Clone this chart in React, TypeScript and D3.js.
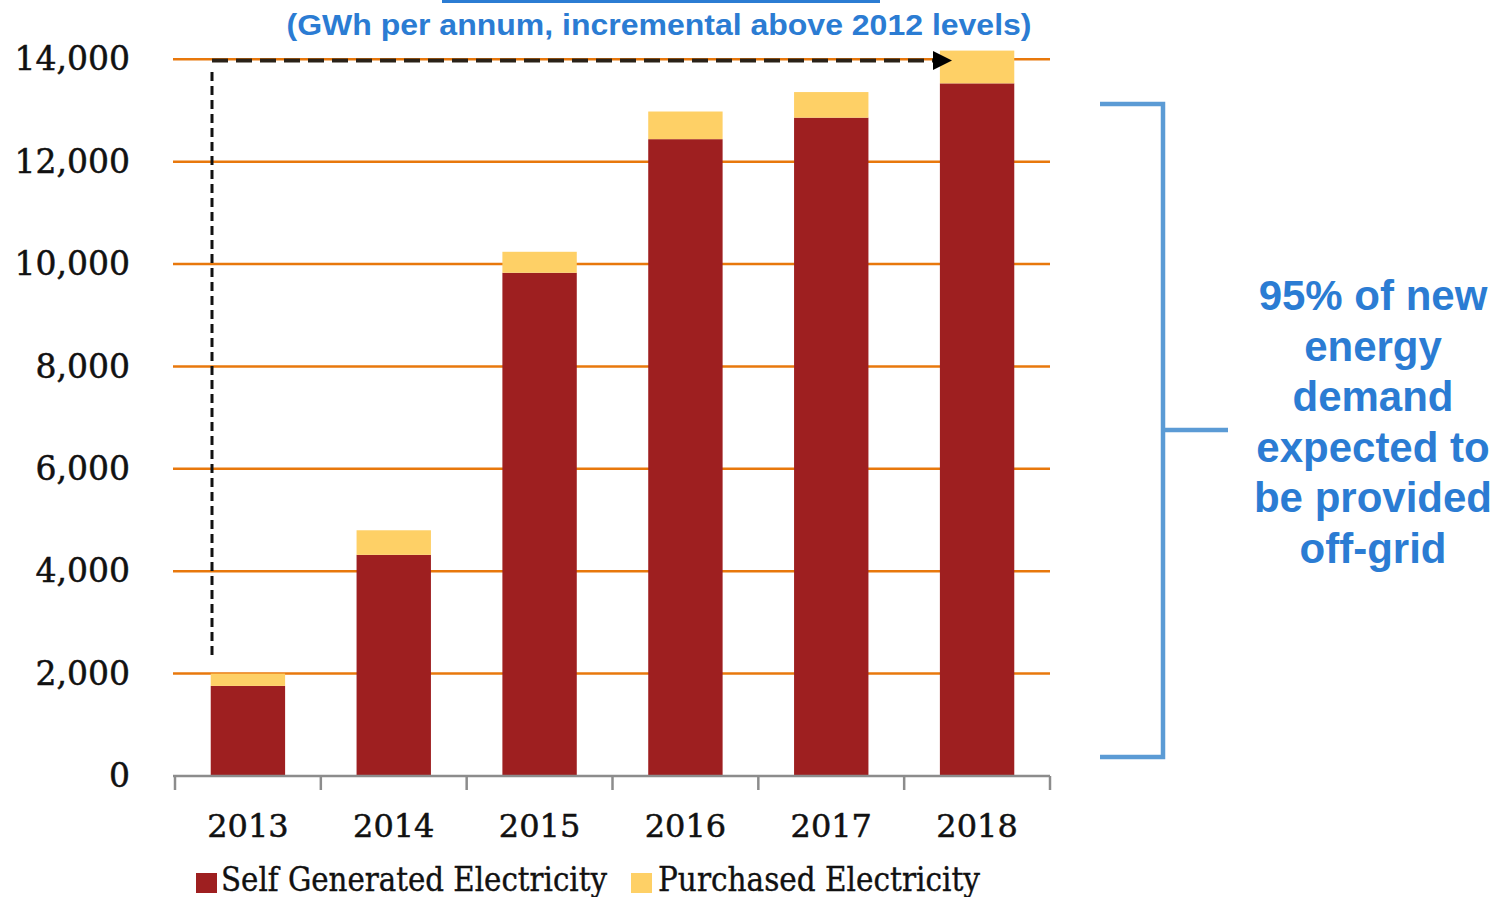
import React, { useRef, useEffect } from 'react';
import * as d3 from 'd3';

const years = ['2013', '2014', '2015', '2016', '2017', '2018'];
const selfGenerated = [1760, 4320, 9830, 12440, 12860, 13530];
const purchased = [240, 480, 410, 540, 500, 640];
const yTicks = [0, 2000, 4000, 6000, 8000, 10000, 12000, 14000];
const legendLabels = ['Self Generated Electricity', 'Purchased Electricity'];
const titleText = '(GWh per annum, incremental above 2012 levels)';
const noteLines = ['95% of new', 'energy', 'demand', 'expected to', 'be provided', 'off-grid'];

const RED = '#9e1f20';
const YELLOW = '#fed066';
const ORANGE = '#e8780c';
const BLUE_TEXT = '#2b7cd3';
const BLUE_LINE = '#5b9bd5';
const INK = '#111';

const App: React.FC = () => {
  const svgRef = useRef<SVGSVGElement>(null);
  const width = 1496;
  const height = 897;

  useEffect(() => {
    if (!svgRef.current) return;
    const svg = d3.select(svgRef.current);
    svg.selectAll('*').remove();

    const left = 175;
    const right = 1050;
    const x = d3.scaleBand<string>()
      .domain(years)
      .range([left, right])
      .paddingInner(0.49)
      .paddingOuter(0.245);
    const y = d3.scaleLinear().domain([0, 14000]).range([776, 59.3]);
    const step = x.step();

    // title (top line is cut off in the source)
    svg.append('rect')
      .attr('x', 442).attr('y', 0).attr('width', 438).attr('height', 3)
      .attr('fill', BLUE_TEXT);
    svg.append('text')
      .attr('x', 659).attr('y', 35)
      .attr('text-anchor', 'middle')
      .attr('textLength', 745)
      .attr('lengthAdjust', 'spacingAndGlyphs')
      .style('font-family', '"Liberation Sans", Arial, sans-serif')
      .style('font-weight', 700)
      .style('font-size', '29px')
      .style('fill', BLUE_TEXT)
      .text(titleText);

    // gridlines
    svg.append('g')
      .selectAll('line')
      .data(yTicks.filter(d => d > 0))
      .join('line')
      .attr('x1', 173).attr('x2', right)
      .attr('y1', d => y(d)).attr('y2', d => y(d))
      .attr('stroke', ORANGE)
      .attr('stroke-width', 2.5);

    // y labels
    const yAxis = svg.append('g')
      .attr('transform', 'translate(130,0)')
      .call(d3.axisLeft(y).tickValues(yTicks).tickSize(0).tickPadding(0).tickFormat(d => d3.format(',')(d as number)));
    yAxis.select('.domain').remove();
    yAxis.selectAll('text')
      .style('font-family', '"DejaVu Serif", Georgia, serif')
      .style('font-size', '33px')
      .style('fill', INK)
      .style('stroke', INK)
      .style('stroke-width', 0.5);

    // stacked bars
    const stacked = years.map((yr, i) => ({ yr, self: selfGenerated[i], bought: purchased[i] }));
    const bars = svg.append('g');
    bars.selectAll('.self')
      .data(stacked)
      .join('rect')
      .attr('class', 'self')
      .attr('x', d => x(d.yr) || 0)
      .attr('width', x.bandwidth())
      .attr('y', d => y(d.self))
      .attr('height', d => y(0) - y(d.self))
      .attr('fill', RED);
    bars.selectAll('.bought')
      .data(stacked)
      .join('rect')
      .attr('class', 'bought')
      .attr('x', d => x(d.yr) || 0)
      .attr('width', x.bandwidth())
      .attr('y', d => y(d.self + d.bought))
      .attr('height', d => y(d.self) - y(d.self + d.bought))
      .attr('fill', YELLOW);

    // x axis
    const axis = svg.append('g');
    axis.append('line')
      .attr('x1', 173).attr('x2', right)
      .attr('y1', y(0)).attr('y2', y(0))
      .attr('stroke', '#8c8c8c').attr('stroke-width', 2.5);
    const bounds = years.map(yr => (x(yr) || 0) - step * 0.245).concat([right]);
    axis.selectAll('.tick')
      .data(bounds)
      .join('line')
      .attr('class', 'tick')
      .attr('x1', d => d).attr('x2', d => d)
      .attr('y1', y(0)).attr('y2', 790)
      .attr('stroke', '#8c8c8c').attr('stroke-width', 2.5);
    axis.selectAll('.xlab')
      .data(years)
      .join('text')
      .attr('class', 'xlab')
      .attr('x', d => (x(d) || 0) + x.bandwidth() / 2)
      .attr('y', 837)
      .attr('text-anchor', 'middle')
      .style('font-family', '"DejaVu Serif", Georgia, serif')
      .style('font-size', '32px')
      .style('fill', INK)
      .style('stroke', INK)
      .style('stroke-width', 0.5)
      .text(d => d);

    // dashed guide from 2013 up to the 14,000 level
    const guideX = 212;
    svg.append('line')
      .attr('x1', guideX).attr('x2', guideX)
      .attr('y1', 72).attr('y2', 660)
      .attr('stroke', INK).attr('stroke-width', 3)
      .attr('stroke-dasharray', '9,5');
    svg.append('line')
      .attr('x1', guideX).attr('x2', 935)
      .attr('y1', 60.5).attr('y2', 60.5)
      .attr('stroke', '#2a2218').attr('stroke-width', 4)
      .attr('stroke-dasharray', '16,8');
    svg.append('path')
      .attr('d', 'M933,51 L952,60.5 L933,70 Z')
      .attr('fill', '#000');

    // legend
    const legend = svg.append('g');
    const legendItems = [
      { label: legendLabels[0], color: RED, x: 196, tx: 221, len: 386 },
      { label: legendLabels[1], color: YELLOW, x: 631, tx: 658, len: 322 },
    ];
    legendItems.forEach(item => {
      legend.append('rect')
        .attr('x', item.x).attr('y', 873).attr('width', 21).attr('height', 20)
        .attr('fill', item.color);
      legend.append('text')
        .attr('x', item.tx).attr('y', 891)
        .attr('textLength', item.len)
        .attr('lengthAdjust', 'spacingAndGlyphs')
        .style('font-family', '"DejaVu Serif", Georgia, serif')
        .style('font-size', '34px')
        .style('fill', INK)
        .style('stroke', INK)
        .style('stroke-width', 0.4)
        .text(item.label);
    });

    // bracket
    svg.append('path')
      .attr('d', 'M1100,104 H1163 V757 H1100 M1163,430 H1228')
      .attr('fill', 'none')
      .attr('stroke', BLUE_LINE)
      .attr('stroke-width', 4.5);

    // note
    svg.append('g')
      .selectAll('text')
      .data(noteLines)
      .join('text')
      .attr('x', 1373)
      .attr('y', (_, i) => 310 + i * 50.6)
      .attr('text-anchor', 'middle')
      .style('font-family', '"Liberation Sans", Arial, sans-serif')
      .style('font-weight', 700)
      .style('font-size', '42px')
      .style('fill', BLUE_TEXT)
      .text(d => d);
  }, []);

  return (
    <svg
      ref={svgRef}
      width={width}
      height={height}
      style={{ position: 'absolute', left: 0, top: 0, background: '#fff' }}
    />
  );
};

export default App;
